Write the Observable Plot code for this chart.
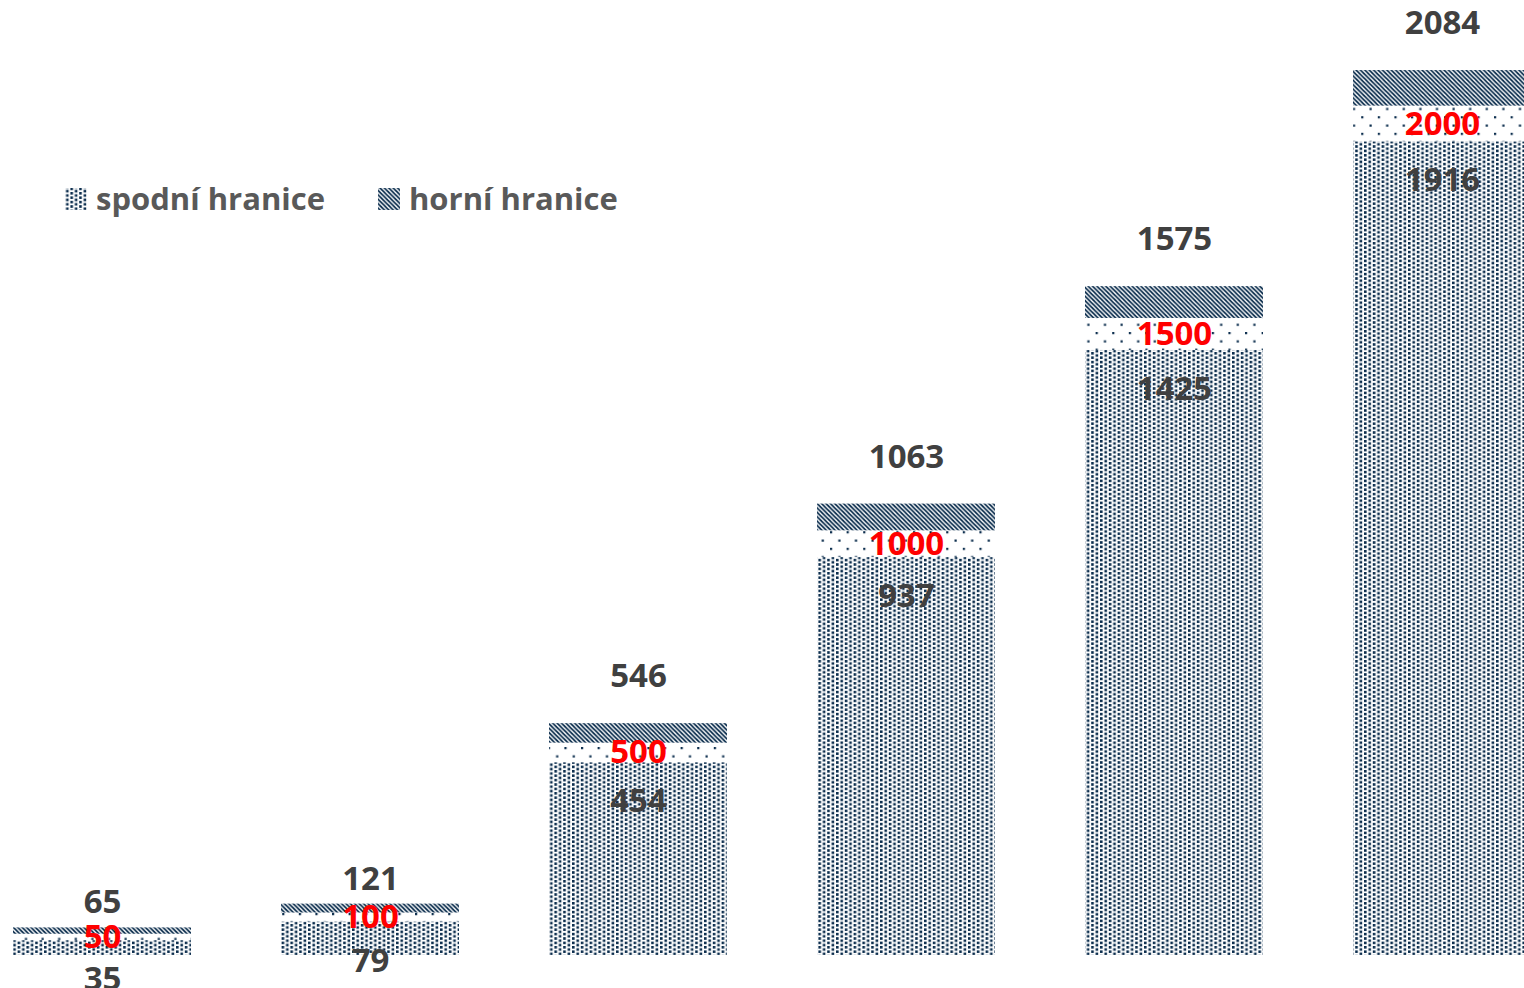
<!DOCTYPE html>
<html>
<head>
<meta charset="utf-8">
<script src="https://cdn.jsdelivr.net/npm/d3@7"></script>
<script src="https://cdn.jsdelivr.net/npm/@observablehq/plot@0.6"></script>
<style>
  html, body { margin: 0; padding: 0; background: #ffffff; }
  #wrap { position: relative; width: 1524px; height: 988px; overflow: hidden; background: #ffffff; font-family: "Open Sans", sans-serif; }
  #chart svg { display: block; }
  #legend { position: absolute; left: 0; top: 170px; }
</style>
</head>
<body>
<div id="wrap">
  <div id="chart"></div>
  <svg id="legend" width="700" height="60"></svg>
</div>
<script>
// ---- data ----
const categories = ["50", "100", "500", "1000", "1500", "2000"];
const nominal = [50, 100, 500, 1000, 1500, 2000];
const lower = [35, 79, 454, 937, 1425, 1916];
const upper = [65, 121, 546, 1063, 1575, 2084];
const legendLabels = ["spodní hranice", "horní hranice"];

const NAVY = "#0b2d4d";
const data = categories.map((c, i) => ({ cat: c, nominal: nominal[i], lower: lower[i], upper: upper[i] }));

const textStyle = { fontSize: 33, fontWeight: "bold", fontFamily: "Open Sans" };

const plot = Plot.plot({
  width: 1524,
  height: 988,
  marginTop: 70,
  marginBottom: 33,
  marginLeft: 0,
  marginRight: 0,
  style: { background: "transparent", fontFamily: "Open Sans" },
  x: { domain: categories, range: [-33, 1577], paddingInner: 0.336, paddingOuter: 0.168, axis: null },
  y: { domain: [0, d3.max(upper)], axis: null },
  marks: [
    Plot.barY(data, { x: "cat", y1: 0, y2: "lower", fill: "url(#pDense)" }),
    Plot.barY(data, { x: "cat", y1: "lower", y2: "nominal", fill: "url(#pSparse)" }),
    Plot.barY(data, { x: "cat", y1: "nominal", y2: "upper", fill: "url(#pHatch)" }),
    Plot.text(data, { x: "cat", y: "lower", text: d => String(d.lower), dy: 39, fill: "#404040", ...textStyle }),
    Plot.text(data, { x: "cat", y: d => (d.lower + d.nominal) / 2, text: d => String(d.nominal), fill: "#ff0000", ...textStyle }),
    Plot.text(data.filter(d => d.upper >= 300), { x: "cat", y: "upper", text: d => String(d.upper), dy: -47, fill: "#404040", ...textStyle }),
    Plot.text(data.filter(d => d.upper < 300), { x: "cat", y: "upper", text: d => String(d.upper), dy: -25, fill: "#404040", ...textStyle })
  ]
});

// patterns
const defs = d3.select(plot).insert("defs", ":first-child");
// dense dots (25%-like)
const pd = defs.append("pattern").attr("id", "pDense").attr("patternUnits", "userSpaceOnUse")
  .attr("width", 8.8).attr("height", 4.4);
pd.append("rect").attr("width", 8.8).attr("height", 4.4).attr("fill", "#ffffff");
pd.append("rect").attr("x", 0).attr("y", 0).attr("width", 2.6).attr("height", 2.6).attr("fill", NAVY);
pd.append("rect").attr("x", 4.4).attr("y", 2.2).attr("width", 2.6).attr("height", 2.6).attr("fill", NAVY);
pd.append("rect").attr("x", 4.4).attr("y", -2.2).attr("width", 2.6).attr("height", 2.6).attr("fill", NAVY);
// sparse dots
const ps = defs.append("pattern").attr("id", "pSparse").attr("patternUnits", "userSpaceOnUse")
  .attr("width", 16.6).attr("height", 16.6);
ps.append("rect").attr("width", 16.6).attr("height", 16.6).attr("fill", "#ffffff");
ps.append("rect").attr("x", 0).attr("y", 0).attr("width", 2.2).attr("height", 2.2).attr("fill", NAVY);
ps.append("rect").attr("x", 8.3).attr("y", 8.3).attr("width", 2.2).attr("height", 2.2).attr("fill", NAVY);
// hatch (downward diagonal)
const ph = defs.append("pattern").attr("id", "pHatch").attr("patternUnits", "userSpaceOnUse")
  .attr("width", 4.4).attr("height", 4.4);
ph.append("rect").attr("width", 4.4).attr("height", 4.4).attr("fill", "#ffffff");
ph.append("path").attr("d", "M0,0L2.5,0L4.4,1.9L4.4,4.4Z M0,1.9L2.5,4.4L0,4.4Z").attr("fill", NAVY);

document.getElementById("chart").appendChild(plot);

// legend
const lg = d3.select("#legend");
const items = [
  { label: legendLabels[0], fill: "url(#pDense)", sx: 65, tx: 96 },
  { label: legendLabels[1], fill: "url(#pHatch)", sx: 378, tx: 409 }
];
for (const it of items) {
  lg.append("rect").attr("x", it.sx).attr("y", 18).attr("width", 22).attr("height", 22).attr("fill", it.fill);
  lg.append("text").attr("x", it.tx).attr("y", 40).attr("fill", "#595959")
    .attr("font-family", "Open Sans").attr("font-weight", "bold").attr("font-size", 31)
    .text(it.label);
}
</script>
</body>
</html>
